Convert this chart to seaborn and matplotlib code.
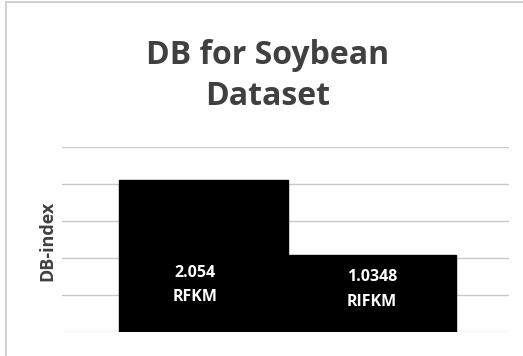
import matplotlib
matplotlib.use("Agg")
import matplotlib.pyplot as plt
import seaborn as sns
import pandas as pd
from matplotlib.lines import Line2D

methods = ["RFKM", "RIFKM"]
db_values = [2.054, 1.0348]
value_labels = ["2.054", "1.0348"]
title_text = "DB for Soybean\nDataset"
ylabel_text = "DB-index"

sns.set_theme(style="white")
plt.rcParams["font.family"] = ["Open Sans", "DejaVu Sans"]

W, H = 523, 356
fig = plt.figure(figsize=(W / 100, H / 100), dpi=100)
ax = fig.add_axes([62 / W, 1 - 332 / H, (509 - 62) / W, (332 - 147) / H])

df = pd.DataFrame({"method": methods, "db": db_values})
sns.barplot(data=df, x="method", y="db", color="black", width=1.0,
            saturation=1, ax=ax, zorder=3)
for p in ax.patches:
    p.set_edgecolor("black")

ax.set_ylim(0, 2.5)
ax.set_xlim(-0.84, 1.815)
ax.set_yticks([0, 0.5, 1.0, 1.5, 2.0, 2.5])
ax.yaxis.grid(True, color="#c8c8c8", linewidth=1.0, zorder=0)
ax.set_axisbelow(True)
for s in ax.spines.values():
    s.set_visible(False)
ax.tick_params(left=False, bottom=False, labelleft=False, labelbottom=False)
ax.set_xlabel("")
ax.set_ylabel("")

for i, (m, lab) in enumerate(zip(methods, value_labels)):
    ax.text(i - 0.05 if i == 0 else i, 0.8 if i == 0 else 0.74, lab, ha="center", va="center",
            color="white", fontsize=11.5, fontweight="bold")
    ax.text(i - 0.05 if i == 0 else i, 0.47 if i == 0 else 0.41, m, ha="center", va="center",
            color="white", fontsize=11.5, fontweight="bold")

fig.text(268 / W, 1 - 76 / H, title_text, ha="center", va="center",
         fontsize=23, fontweight="bold", color="#404040", linespacing=1.3)
fig.text(47 / W, 1 - 241 / H, ylabel_text, ha="center", va="center",
         rotation=90, fontsize=13, fontweight="bold", color="#404040")

fig.add_artist(Line2D([5.5 / W, 1], [1 - 2 / H, 1 - 2 / H], color="#c8c8c8", lw=1.2))
fig.add_artist(Line2D([5.5 / W, 5.5 / W], [0, 1 - 2 / H], color="#c8c8c8", lw=1.2))

fig.savefig("out.png", dpi=100, facecolor="white")
